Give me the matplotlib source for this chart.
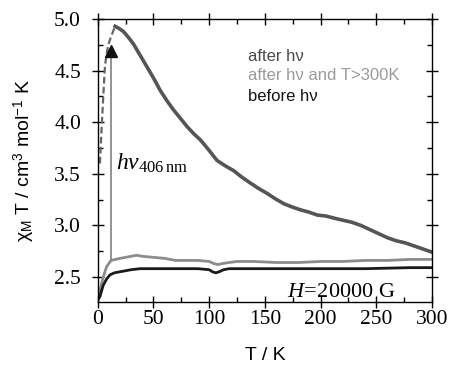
import matplotlib
matplotlib.use("Agg")
import matplotlib.pyplot as plt
from matplotlib.ticker import MultipleLocator

plt.rcParams["mathtext.fontset"] = "custom"
plt.rcParams["mathtext.rm"] = "Liberation Serif"
plt.rcParams["mathtext.it"] = "Liberation Serif:italic"
plt.rcParams["mathtext.sf"] = "Liberation Sans"

# --- data ---
T_rise = [2, 3.6, 5, 6.5, 8, 9.5, 12, 15.6]
chi_rise = [3.60, 3.96, 4.25, 4.54, 4.66, 4.75, 4.83, 4.93]

T_after = [15.6, 19, 23, 27, 32, 38, 44, 50, 56, 62, 68,
           74, 80, 86, 92, 99, 107, 114, 122, 129, 137, 144, 152, 159, 167, 174, 182,
           189, 197, 205, 212, 220, 228, 236, 244, 252, 260, 268, 276, 284, 292, 300]
chi_after = [4.93, 4.91, 4.88, 4.83, 4.76,
             4.65, 4.54, 4.43, 4.31, 4.21, 4.12, 4.04, 3.96, 3.89, 3.83, 3.74, 3.63,
             3.58, 3.53, 3.47, 3.41, 3.36, 3.31, 3.26, 3.21, 3.18, 3.15, 3.13, 3.10,
             3.09, 3.07, 3.05, 3.03, 3.00, 2.96, 2.92, 2.88, 2.85, 2.83, 2.80, 2.77, 2.74]

T_heated = [0, 2, 5, 8, 12, 16, 20, 25, 30, 35, 40, 50, 60, 70, 80, 90, 100, 104, 108,
            112, 118, 125, 140, 160, 180, 200, 220, 240, 260, 280, 300]
chi_heated = [2.33, 2.37, 2.50, 2.60, 2.66, 2.67, 2.68, 2.69, 2.70, 2.71, 2.70, 2.69,
              2.68, 2.66, 2.66, 2.66, 2.65, 2.63, 2.62, 2.63, 2.64, 2.65, 2.65, 2.64,
              2.64, 2.65, 2.65, 2.66, 2.66, 2.67, 2.67]

T_before = [0, 2, 5, 8, 11, 15, 20, 25, 30, 38, 50, 70, 90, 100, 103, 106, 109, 113,
            118, 130, 160, 200, 240, 280, 300]
chi_before = [2.27, 2.31, 2.42, 2.48, 2.52, 2.54, 2.55, 2.56, 2.57, 2.58, 2.58, 2.58,
              2.58, 2.57, 2.55, 2.54, 2.55, 2.57, 2.58, 2.58, 2.58, 2.58, 2.58, 2.59, 2.59]

arrow_T = 11.7
arrow_from = 2.66
arrow_to = 4.69

legend_labels = ["after h\u03bd", "after h\u03bd and T>300K", "before h\u03bd"]
legend_colors = ["#4a4a4a", "#9a9a9a", "#151515"]

fig = plt.figure(figsize=(4.51, 3.66), dpi=100)
ax = fig.add_axes([0.2166, 0.1757, 0.7414, 0.7723])

ax.plot(T_heated, chi_heated, color="#8c8c8c", lw=2.0)
ax.plot(T_before, chi_before, color="#1a1a1a", lw=2.0)
ax.plot(T_rise, chi_rise, color="#666666", lw=1.6, ls=(0, (3, 1.5)))
ax.plot(T_after, chi_after, color="#555555", lw=2.6)

ax.plot([arrow_T, arrow_T], [arrow_from, arrow_to], color="#8a8a8a", lw=1.3)
ax.plot([arrow_T], [arrow_to], marker="^", color="#111111", ms=8, mec="#111111")

ax.set_xlim(0, 300)
ax.set_ylim(2.26, 5.0)
ax.xaxis.set_major_locator(MultipleLocator(50))
ax.xaxis.set_minor_locator(MultipleLocator(25))
ax.yaxis.set_major_locator(MultipleLocator(0.5))
ax.yaxis.set_minor_locator(MultipleLocator(0.25))
ax.tick_params(which="both", top=True, right=True, width=1.0)
ax.tick_params(which="major", direction="inout", length=8)
ax.tick_params(which="minor", direction="in", length=3.5)
for lab in ax.get_xticklabels() + ax.get_yticklabels():
    lab.set_family("Liberation Serif")
    lab.set_fontsize(15.5)
ax.tick_params(axis="x", pad=2)
ax.tick_params(axis="y", pad=8)
for s in ax.spines.values():
    s.set_linewidth(1.0)

ax.set_xlabel("T / K", family="Liberation Sans", fontsize=14, labelpad=13)
ax.set_ylabel("\u03c7$_{\\mathsf{M}}$ T / cm$^{\\mathsf{3}}$ mol$^{\\mathsf{-1}}$ K",
              family="Liberation Sans", fontsize=14, labelpad=12)

ys = [0.868, 0.800, 0.725]
for lab, col, yy in zip(legend_labels, legend_colors, ys):
    ax.text(0.45, yy, lab, transform=ax.transAxes, color=col,
            family="Liberation Sans", fontsize=12, va="center", ha="left")

ax.text(16, 3.6, r"$h\nu_{\mathrm{406\,nm}}$", fontsize=17,
        va="center", ha="left")
ax.text(0.565, 0.0, r"$H\!=\!$20000 G", transform=ax.transAxes, fontsize=16,
        family="Liberation Serif", va="bottom", ha="left")

fig.savefig("out.png", dpi=100)
